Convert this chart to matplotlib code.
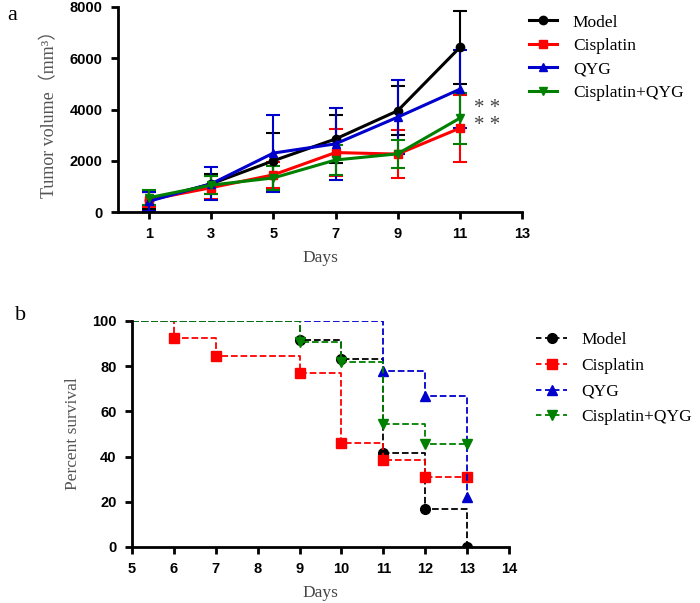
import matplotlib
matplotlib.use("Agg")
import matplotlib.pyplot as plt
from matplotlib.lines import Line2D
from matplotlib.font_manager import FontProperties

# panel a: tumor volume
days_a = [1, 3, 5, 7, 9, 11]
model_vol = [450, 1100, 2000, 2850, 3950, 6420]
model_err = [330, 400, 1100, 920, 950, 1410]
cis_vol = [480, 950, 1450, 2320, 2260, 3270]
cis_err = [300, 450, 520, 920, 930, 1300]
qyg_vol = [420, 1100, 2300, 2660, 3700, 4790]
qyg_err = [380, 650, 1500, 1400, 1440, 1520]
combo_vol = [560, 1050, 1330, 2030, 2270, 3660]
combo_err = [300, 350, 480, 600, 550, 1000]

# panel b: survival
model_days = [5, 9, 10, 11, 12, 13]
model_surv = [100, 91.7, 83.3, 41.7, 16.7, 0]
cis_days = [5, 6, 7, 9, 10, 11, 12, 13]
cis_surv = [100, 92.3, 84.6, 76.9, 46.2, 38.5, 30.8, 30.8]
qyg_days = [5, 11, 12, 13]
qyg_surv = [100, 77.8, 66.7, 22.2]
combo_days = [5, 9, 10, 11, 12, 13]
combo_surv = [100, 90.9, 81.8, 54.5, 45.5, 45.5]

labels = ['Model', 'Cisplatin', 'QYG', 'Cisplatin+QYG']
colors = ['black', '#ff0000', '#0000cc', '#008000']
markers = ['o', 's', '^', 'v']

serif = ['Liberation Serif', 'DejaVu Serif']
tickfont = dict(family='Liberation Sans', weight='bold', size=10.5)

fig = plt.figure(figsize=(7, 6.03), dpi=100)

ax1 = fig.add_axes([0.1686, 0.6484, 0.577, 0.34])
vols = [model_vol, cis_vol, qyg_vol, combo_vol]
errs = [model_err, cis_err, qyg_err, combo_err]
for v, e, c, m in zip(vols, errs, colors, markers):
    ax1.errorbar(days_a, v, yerr=e, color=c, marker=m, ms=6, lw=2.2,
                 capsize=5, capthick=1.5, elinewidth=1.5)
ax1.set_xlim(0, 13)
ax1.set_ylim(0, 8000)
ax1.set_xticks([1, 3, 5, 7, 9, 11, 13])
ax1.set_yticks([0, 2000, 4000, 6000, 8000])
ax1.text(11.45, 4050, '* *', family=serif, fontsize=15, color='#444444', va='center')
ax1.text(11.45, 3380, '* *', family=serif, fontsize=15, color='#444444', va='center')
ax1.set_xlabel('Days', family=serif, fontsize=12.5, color='#444444', labelpad=6)
ax1.set_ylabel('Tumor volume（mm³）', family=serif + ['Noto Sans CJK SC'], fontsize=13,
               color='#555555', labelpad=8)
handles1 = [Line2D([], [], color=c, marker=m, ms=6, lw=2.2) for c, m in zip(colors, markers)]
ax1.legend(handles1, labels, loc='upper left', bbox_to_anchor=(0.98, 1.04), frameon=False,
           prop=dict(family=serif, size=12.5), handlelength=1.6,
           handletextpad=0.9, labelspacing=0.42)

ax2 = fig.add_axes([0.1886, 0.0929, 0.5386, 0.3748])
sdays = [model_days, cis_days, qyg_days, combo_days]
survs = [model_surv, cis_surv, qyg_surv, combo_surv]
for d, s, c, m in zip(sdays, survs, colors, markers):
    ax2.step(d, s, where='post', color=c, ls='--', lw=1.3)
    ax2.plot(d[1:], s[1:], ls='none', marker=m, color=c, ms=7)
handles2 = [Line2D([], [], color=c, ls=(0, (3, 2)), lw=1.3, marker=m, ms=7)
            for c, m in zip(colors, markers)]
ax2.set_xlim(5, 14)
ax2.set_ylim(0, 100)
ax2.set_xticks(range(5, 15))
ax2.set_yticks(range(0, 101, 20))
ax2.set_xlabel('Days', family=serif, fontsize=12.5, color='#444444', labelpad=6)
ax2.set_ylabel('Percent survival', family=serif, fontsize=12.5, color='#555555', labelpad=8)
ax2.legend(handles2, labels, loc='upper left', bbox_to_anchor=(1.03, 1.02), frameon=False,
           prop=dict(family=serif, size=12.5), handlelength=1.8,
           handletextpad=0.8, labelspacing=0.55)

for ax in (ax1, ax2):
    for sp in ('top', 'right'):
        ax.spines[sp].set_visible(False)
    for sp in ('left', 'bottom'):
        ax.spines[sp].set_linewidth(2)
    ax.tick_params(width=2, length=5, pad=6)
    for t in ax.get_xticklabels() + ax.get_yticklabels():
        t.set_fontproperties(FontProperties(**tickfont))

fig.text(0.01, 0.975, 'a', family=serif, fontsize=16, va='center')
fig.text(0.022, 0.477, 'b', family=serif, fontsize=16, va='center')

fig.savefig('out.png', dpi=100)
